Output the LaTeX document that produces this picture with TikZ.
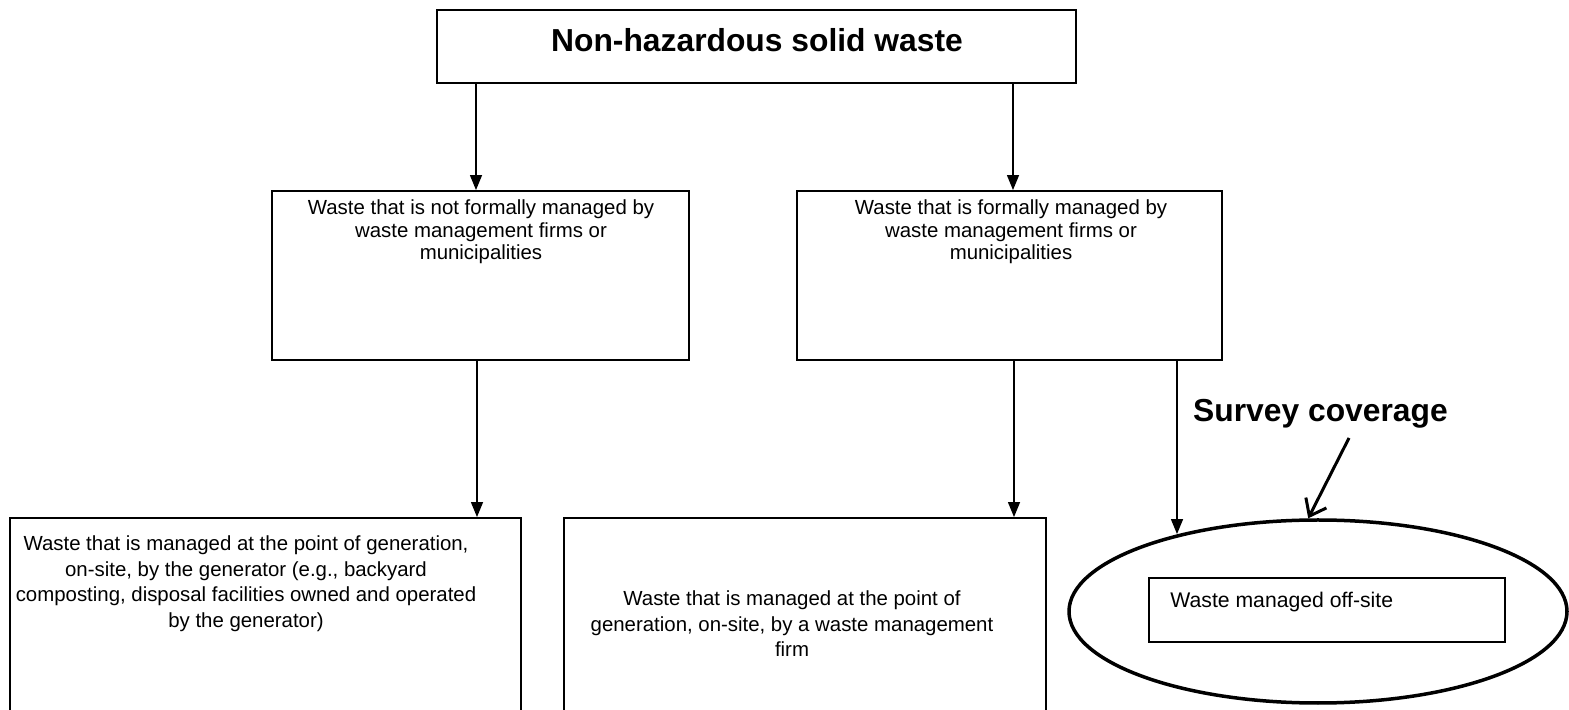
\documentclass[tikz,border=0pt]{standalone}
\usepackage{fontspec}
\setmainfont{Liberation Sans}
\usetikzlibrary{arrows.meta,shapes.geometric}
\begin{document}
\begin{tikzpicture}[x=0.5pt,y=-0.5pt,
  box/.style={draw,line width=0.95pt,rectangle,inner sep=0pt},
  txtm/.style={inner sep=0pt,align=center,anchor=north,font=\fontsize{10.2}{11.25}\selectfont},
  txtb/.style={inner sep=0pt,align=center,anchor=north,font=\fontsize{10.2}{12.85}\selectfont},
  bigtxt/.style={inner sep=0pt,anchor=base,font=\bfseries\fontsize{15.9}{18}\selectfont},
  arr/.style={line width=0.7pt,-{Triangle[width=6pt,length=7.5pt]}},
  sarr/.style={line width=1.5pt,-{Straight Barb[length=7.5pt,width=11.5pt]}},
  ]
\clip (0,0) rectangle (1569,710);
\fill[white] (0,0) rectangle (1569,710);

% boxes
\node[box,minimum width=319.5pt,minimum height=36.5pt] (top) at (756.5,46.5) {};
\node[bigtxt] (toptxt) at (757,52) {Non-hazardous solid waste};

\node[box,minimum width=208.5pt,minimum height=84.5pt] (ml) at (480.5,275.5) {};
\node[txtm] (mltxt) at (481,199.4) {Waste that is not formally managed by\\waste management firms or\\municipalities};

\node[box,minimum width=212.5pt,minimum height=84.5pt] (mr) at (1009.5,275.5) {};
\node[txtm] (mrtxt) at (1011,199.4) {Waste that is formally managed by\\waste management firms or\\municipalities};

\node[box,minimum width=255.5pt,minimum height=106pt] (bl) at (265.5,624) {};
\node[txtb] (bltxt) at (246,535.4) {Waste that is managed at the point of generation,\\on-site, by the generator (e.g., backyard\\composting, disposal facilities owned and operated\\by the generator)};

\node[box,minimum width=241pt,minimum height=106pt] (bm) at (805,624) {};
\node[txtb] (bmtxt) at (792,590.4) {Waste that is managed at the point of\\generation, on-site, by a waste management\\firm};

% ellipse and inner box
\node[draw,ellipse,line width=1.75pt,minimum width=249pt,minimum height=91.5pt,inner sep=0pt] (ell) at (1318,611.5) {};
\node[box,minimum width=178pt,minimum height=32pt] (ib) at (1327,610) {};
\node[inner sep=0pt,anchor=base west,font=\fontsize{10.6}{12}\selectfont] (ibtxt) at (1170,608) {Waste managed off-site};

\node[bigtxt] (sc) at (1320.5,422) {Survey coverage};

% connectors
\coordinate (xa) at (476,0);
\coordinate (xb) at (1013,0);
\coordinate (xc) at (477,0);
\coordinate (xd) at (1014,0);
\coordinate (xe) at (1177,0);
\coordinate (scs) at (1349,438);
\draw[arr] (top.south -| xa) -- (ml.north -| xa);
\draw[arr] (top.south -| xb) -- (mr.north -| xb);
\draw[arr] (ml.south -| xc) -- (bl.north -| xc);
\draw[arr] (mr.south -| xd) -- (bm.north -| xd);
\draw[arr] (mr.south -| xe) -- (xe |- ell.151);
\draw[sarr] (scs) -- (ell.96.7);
\end{tikzpicture}
\end{document}
